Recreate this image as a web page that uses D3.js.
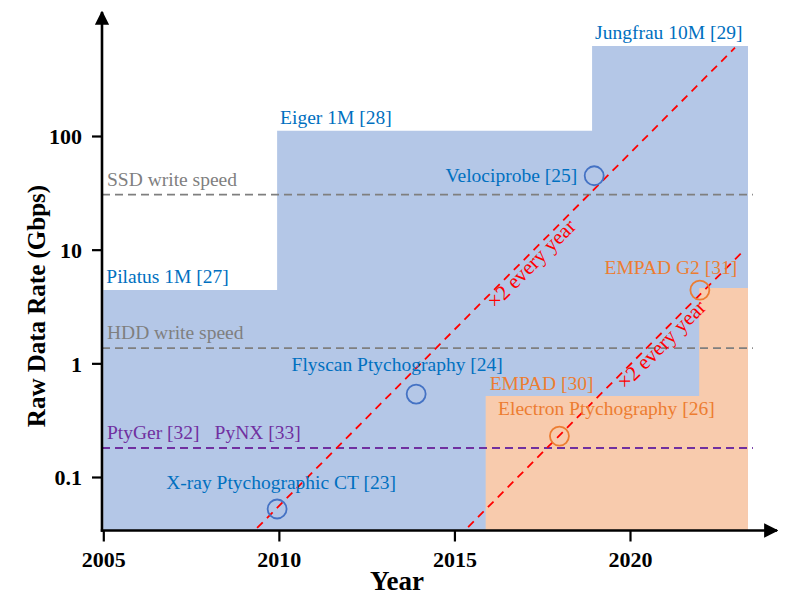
<!DOCTYPE html>
<html>
<head>
<meta charset="utf-8">
<script src="https://cdn.jsdelivr.net/npm/d3@7"></script>
<style>
  body { margin: 0; background: #fff; }
  svg text { font-family: "Liberation Serif", "Times New Roman", serif; }
</style>
</head>
<body>
<div class="rate-chart"></div>
<script>
// detector step areas (year where each level starts, last entry = end year)
var blueYears = [2005, 2009.95, 2018.92, 2023.36];
var blueRates = [4.41, 111, 620];
var blueNames = ["Pilatus 1M [27]", "Eiger 1M [28]", "Jungfrau 10M [29]"];

var orangeYears = [2015.89, 2021.97, 2023.36];
var orangeRates = [0.515, 4.6];
var orangeNames = ["EMPAD [30]", ""];

// reference levels
var levelNames = ["SSD write speed", "HDD write speed", "PtyGer [32]"];
var levelRates = [30.5, 1.36, 0.18];
var levelKinds = ["gray", "gray", "purple"];

// measured experiments
var pointNames = ["X-ray Ptychographic CT [23]", "Flyscan Ptychography [24]", "Velociprobe [25]", "Electron Ptychography [26]", "EMPAD G2 [31]"];
var pointYears = [2009.95, 2013.91, 2018.98, 2017.99, 2021.99];
var pointRates = [0.0523, 0.537, 44.7, 0.229, 4.41];
var pointKinds = ["blue", "blue", "blue", "orange", "orange"];

// x2 every year trend lines: [start year, start rate], [end year, end rate]
var trendStart = [[2009.38, 0.0356], [2015.39, 0.0363]];
var trendEnd = [[2022.99, 598], [2023.25, 9.88]];
var trendLabel = "\u00d72 every year";

var xTicks = [2005, 2010, 2015, 2020];
var yTicks = [0.1, 1, 10, 100];
var yTickLabels = ["0.1", "1", "10", "100"];

function drawChart() {
	var sel = d3.select(".rate-chart").html("");
	var width = 789, height = 603;

	var svg = sel.append("svg")
		.attr("width", width)
		.attr("height", height);

	var left = 102, bottom = 530.5, right = 777, top = 12;
	var fs = "19.5px";

	var x = d3.scaleLinear().domain([2005, 2020]).range([103.3, 630]);
	var y = d3.scaleLog().domain([0.1, 100]).range([477, 136]);
	var yMin = y.invert(bottom);

	var colors = {
		blue: "#0070c0", blueFill: "#b4c7e7", blueMark: "#4472c4",
		orange: "#ed7d31", orangeFill: "#f8cbad",
		gray: "#7f7f7f", purple: "#7030a0", red: "#ff0000"
	};

	function steps(years, rates) {
		var pts = [];
		rates.forEach(function(r, i) {
			pts.push([years[i], r], [years[i + 1], r]);
		});
		return pts;
	}

	var area = d3.area()
		.x(d => x(d[0]))
		.y0(y(yMin))
		.y1(d => y(d[1]));

	svg.append("path")
		.datum(steps(blueYears, blueRates))
		.attr("d", area)
		.attr("fill", colors.blueFill);

	svg.append("path")
		.datum(steps(orangeYears, orangeRates))
		.attr("d", area)
		.attr("fill", colors.orangeFill);

	// step labels
	blueNames.forEach(function(n, i) {
		svg.append("text")
			.attr("x", x(blueYears[i]) + 3)
			.attr("y", y(blueRates[i]) - 7)
			.attr("fill", colors.blue)
			.style("font-size", fs)
			.text(n);
	});
	orangeNames.forEach(function(n, i) {
		if (!n) return;
		svg.append("text")
			.attr("x", x(orangeYears[i]) + 4)
			.attr("y", y(orangeRates[i]) - 6)
			.attr("fill", colors.orange)
			.style("font-size", fs)
			.text(n);
	});

	// horizontal reference lines
	levelRates.forEach(function(r, i) {
		var c = colors[levelKinds[i]];
		svg.append("line")
			.attr("x1", left).attr("x2", x(2023.5))
			.attr("y1", y(r)).attr("y2", y(r))
			.attr("stroke", c)
			.attr("stroke-width", 1.8)
			.attr("stroke-dasharray", "8,5");
		svg.append("text")
			.attr("x", left + 5)
			.attr("y", y(r) - 9)
			.attr("fill", c)
			.style("font-size", fs)
			.text(levelNames[i]);
	});
	svg.append("text")
		.attr("x", x(2008.17))
		.attr("y", y(levelRates[2]) - 9)
		.attr("fill", colors.purple)
		.style("font-size", fs)
		.text("PyNX [33]");

	// trend lines
	var trendOffsets = [323, 208];
	trendStart.forEach(function(s, i) {
		var e = trendEnd[i];
		var x1 = x(s[0]), y1 = y(s[1]), x2 = x(e[0]), y2 = y(e[1]);
		svg.append("line")
			.attr("x1", x1).attr("y1", y1)
			.attr("x2", x2).attr("y2", y2)
			.attr("stroke", colors.red)
			.attr("stroke-width", 1.8)
			.attr("stroke-dasharray", "8,6");
		var ang = Math.atan2(y2 - y1, x2 - x1) * 180 / Math.PI;
		svg.append("text")
			.attr("transform", "translate(" + x1 + "," + y1 + ") rotate(" + ang + ")")
			.attr("x", trendOffsets[i])
			.attr("y", 15)
			.attr("fill", colors.red)
			.style("font-size", "21px")
			.text(trendLabel);
	});

	// experiment points
	var labelPlace = [
		{anchor: "middle", dx: 4, dy: -20},
		{anchor: "middle", dx: -19, dy: -23},
		{anchor: "end", dx: -17, dy: 6},
		{anchor: "middle", dx: 47, dy: -21},
		{anchor: "middle", dx: -29, dy: -16}
	];
	pointNames.forEach(function(n, i) {
		var cx = x(pointYears[i]), cy = y(pointRates[i]);
		var kind = pointKinds[i];
		svg.append("circle")
			.attr("cx", cx).attr("cy", cy).attr("r", 9.5)
			.attr("fill", "none")
			.attr("stroke", kind == "blue" ? colors.blueMark : colors.orange)
			.attr("stroke-width", 1.8);
		svg.append("text")
			.attr("x", cx + labelPlace[i].dx)
			.attr("y", cy + labelPlace[i].dy)
			.attr("text-anchor", labelPlace[i].anchor)
			.attr("fill", kind == "blue" ? colors.blue : colors.orange)
			.style("font-size", fs)
			.text(n);
	});

	// axes
	var xAxis = d3.axisBottom(x).tickValues(xTicks).tickSize(11).tickFormat(d3.format("d"));
	var yAxis = d3.axisLeft(y).tickValues(yTicks).tickSize(10).tickFormat((d, i) => yTickLabels[i]);

	var gx = svg.append("g")
		.attr("transform", "translate(0," + bottom + ")")
		.call(xAxis);
	var gy = svg.append("g")
		.attr("transform", "translate(" + left + ",0)")
		.call(yAxis);

	[gx, gy].forEach(function(g) {
		g.select(".domain").remove();
		g.selectAll(".tick line").attr("stroke", "#000").attr("stroke-width", 2.2);
		g.selectAll(".tick text")
			.attr("fill", "#000")
			.style("font-size", "22px")
			.style("font-weight", "bold")
			.style("font-family", "'Liberation Serif', 'Times New Roman', serif");
	});
	gx.selectAll(".tick text").attr("y", 36).attr("dy", null);
	gy.selectAll(".tick text").attr("x", -20).attr("dy", "0.35em");

	svg.append("defs").append("marker")
		.attr("id", "arrow")
		.attr("viewBox", "0 0 10 10")
		.attr("refX", 9).attr("refY", 5)
		.attr("markerWidth", 5.5).attr("markerHeight", 5.5)
		.attr("markerUnits", "strokeWidth")
		.attr("orient", "auto")
		.append("path")
		.attr("d", "M0,0 L10,5 L0,10 Z")
		.attr("fill", "#000");

	svg.append("line")
		.attr("x1", left).attr("y1", bottom + 1.2)
		.attr("x2", left).attr("y2", top)
		.attr("stroke", "#000").attr("stroke-width", 2.6)
		.attr("marker-end", "url(#arrow)");
	svg.append("line")
		.attr("x1", left - 1.2).attr("y1", bottom)
		.attr("x2", right).attr("y2", bottom)
		.attr("stroke", "#000").attr("stroke-width", 2.6)
		.attr("marker-end", "url(#arrow)");

	svg.append("text")
		.attr("x", 397).attr("y", 590)
		.attr("text-anchor", "middle")
		.style("font-size", "27px")
		.style("font-weight", "bold")
		.text("Year");

	svg.append("text")
		.attr("transform", "translate(45,306) rotate(-90)")
		.attr("text-anchor", "middle")
		.style("font-size", "25px")
		.style("font-weight", "bold")
		.text("Raw Data Rate (Gbps)");
}

drawChart();
</script>
</body>
</html>
